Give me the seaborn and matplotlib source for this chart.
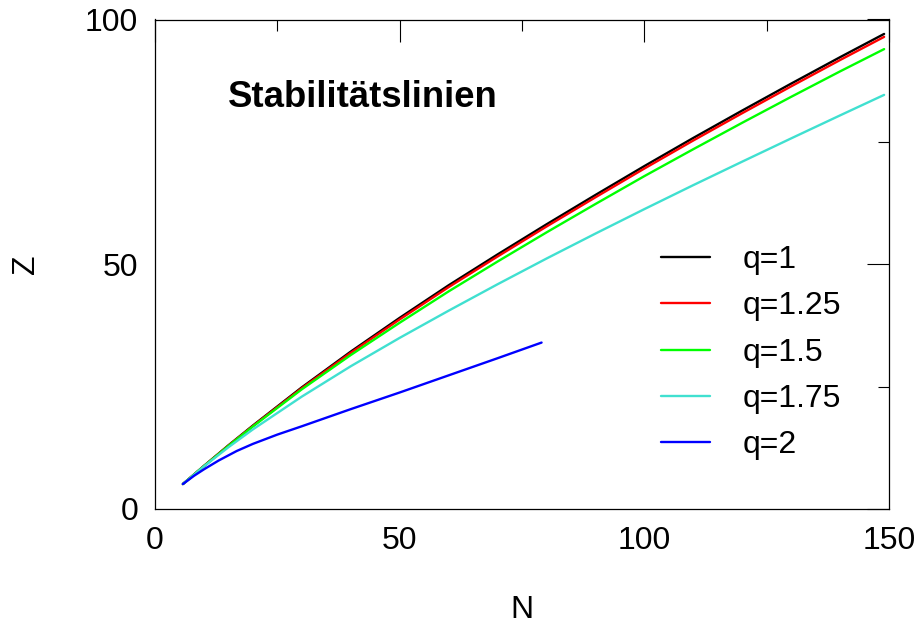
import matplotlib
matplotlib.use("Agg")
import matplotlib.pyplot as plt
from matplotlib.ticker import MultipleLocator
import pandas as pd
import seaborn as sns

# Stability lines Z(N) for several values of the parameter q
n_main = [5.7, 10, 15, 20, 30, 40, 50, 60, 70, 80, 90, 100, 110, 120, 130, 140, 149]
z_q100 = [5.1, 8.8, 13.0, 17.05, 24.85, 32.15, 39.05, 45.7, 52.0, 58.15, 64.15, 70.05, 75.8, 81.4, 86.9, 92.3, 97.05]
z_q125 = [5.1, 8.77, 12.94, 16.95, 24.68, 31.9, 38.73, 45.32, 51.58, 57.7, 63.67, 69.55, 75.28, 80.86, 86.34, 91.72, 96.45]
z_q150 = [5.1, 8.75, 12.88, 16.85, 24.45, 31.45, 38.05, 44.45, 50.55, 56.5, 62.3, 68.0, 73.5, 78.9, 84.2, 89.4, 93.95]
z_q175 = [5.1, 8.71, 12.61, 16.26, 22.96, 29.16, 34.96, 40.51, 45.91, 51.16, 56.26, 61.26, 66.16, 70.96, 75.71, 80.41, 84.6]

n_q200 = [5.7, 8, 10, 13, 16.7, 20, 25, 30, 40, 50, 60, 70, 79]
z_q200 = [5.1, 6.8, 8.1, 9.9, 11.85, 13.3, 15.2, 16.9, 20.4, 23.8, 27.3, 30.8, 34.0]

labels = ["q=1", "q=1.25", "q=1.5", "q=1.75", "q=2"]
colors = ["#000000", "#ff0000", "#00ff00", "#40e0d0", "#0000ff"]

series = [
    (n_main, z_q100),
    (n_main, z_q125),
    (n_main, z_q150),
    (n_main, z_q175),
    (n_q200, z_q200),
]
frames = []
for lab, (n, z) in zip(labels, series):
    frames.append(pd.DataFrame({"N": n, "Z": z, "q": lab}))
df = pd.concat(frames, ignore_index=True)

sns.set_style("white")
plt.rcParams["font.family"] = ["Liberation Sans", "DejaVu Sans"]
plt.rcParams.update({
    "text.color": "black",
    "axes.labelcolor": "black",
    "xtick.color": "black",
    "ytick.color": "black",
})

fig = plt.figure(figsize=(9.18, 6.23), dpi=100)
ax = fig.add_axes([155 / 918, 1 - 509 / 623, 734 / 918, 489.5 / 623])

sns.lineplot(data=df, x="N", y="Z", hue="q", hue_order=labels,
             palette=dict(zip(labels, colors)), estimator=None, sort=True,
             linewidth=1.7, ax=ax, legend=True)

ax.set_xlim(0, 150)
ax.set_ylim(0, 100)
ax.xaxis.set_major_locator(MultipleLocator(50))
ax.xaxis.set_minor_locator(MultipleLocator(25))
ax.yaxis.set_major_locator(MultipleLocator(50))
ax.yaxis.set_minor_locator(MultipleLocator(25))
ax.tick_params(which="both", direction="in", top=True, right=True,
               width=0.8, color="black", labelsize=23, pad=12)
ax.tick_params(which="major", length=16)
ax.tick_params(which="minor", length=8)
for sp in ax.spines.values():
    sp.set_linewidth(0.9)
    sp.set_color("black")

ax.set_xlabel("N", fontsize=23, labelpad=28)
ax.set_ylabel("Z", fontsize=23, labelpad=32)

ax.text(0.0999, 0.822, "Stabilitätslinien", transform=ax.transAxes,
        fontsize=26.3, fontweight="bold", ha="left", va="baseline")

handles, _ = ax.get_legend_handles_labels()
ax.legend(handles=handles, labels=labels, loc="upper left",
          bbox_to_anchor=(0.689, 0.539), frameon=False, fontsize=23,
          handlelength=1.53, handletextpad=1.02, labelspacing=0.51,
          borderpad=0, borderaxespad=0)

fig.savefig("out.png", dpi=100)
